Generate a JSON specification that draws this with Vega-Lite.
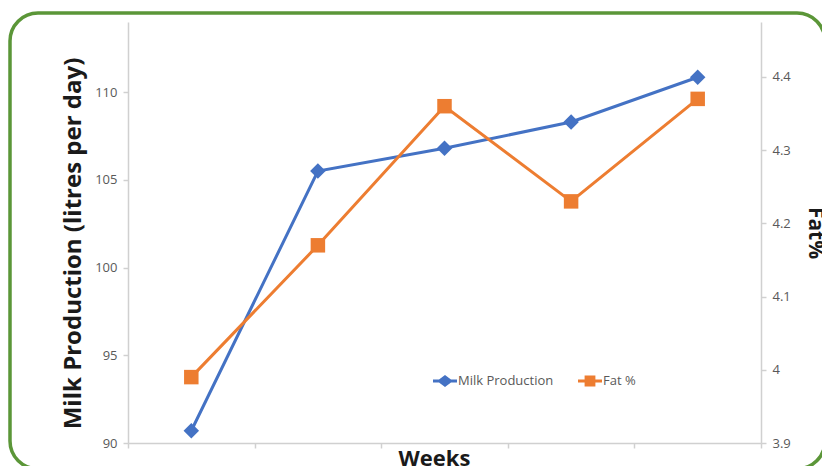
{
  "$schema": "https://vega.github.io/schema/vega-lite/v6.json",
  "width": 815,
  "height": 456,
  "padding": {"left": 10, "top": 13, "right": 0, "bottom": 0},
  "autosize": {"type": "none"},
  "background": "white",
  "config": {
    "view": {"stroke": "#5b9638", "strokeWidth": 3.5, "cornerRadius": 28},
    "axis": {
      "grid": false,
      "domainColor": "#d0d0d0",
      "domainWidth": 1.5,
      "tickColor": "#d0d0d0",
      "tickWidth": 1.5,
      "tickSize": 5,
      "labelFont": "Open Sans",
      "labelFontSize": 13,
      "labelColor": "#595959",
      "titleFont": "Open Sans",
      "titleFontWeight": 700,
      "titleFontSize": 21,
      "titleColor": "#1a1a1a"
    }
  },
  "data": {
    "values": [
      {"week": 1, "milk": 90.7, "fat": 3.99},
      {"week": 2, "milk": 105.5, "fat": 4.17},
      {"week": 3, "milk": 106.8, "fat": 4.36},
      {"week": 4, "milk": 108.3, "fat": 4.23},
      {"week": 5, "milk": 110.85, "fat": 4.37}
    ]
  },
  "layer": [
    {
      "mark": {"type": "line", "strokeWidth": 3, "point": {"shape": "diamond", "size": 240, "filled": true, "opacity": 1}},
      "encoding": {
        "x": {
          "field": "week",
          "type": "quantitative",
          "scale": {"domain": [0.5, 5.5], "range": [118, 751]},
          "axis": {"title": "Weeks", "values": [0.5, 1.5, 2.5, 3.5, 4.5, 5.5], "labels": false, "offset": -26, "titlePadding": 0, "titleX": 424, "titleFontSize": 22}
        },
        "y": {
          "field": "milk",
          "type": "quantitative",
          "scale": {"domain": [90, 114], "range": [430, 9]},
          "axis": {"title": "Milk Production (litres per day)", "values": [90, 95, 100, 105, 110], "offset": -118, "labelPadding": 6, "titlePadding": 9, "titleFontSize": 24, "titleY": 230}
        },
        "color": {
          "datum": "Milk Production",
          "type": "nominal",
          "scale": {"domain": ["Milk Production", "Fat %"], "range": ["#4472C4", "#ED7D31"]},
          "legend": {
            "title": null,
            "orient": "none",
            "direction": "horizontal",
            "legendX": 423,
            "legendY": 356,
            "symbolSize": 576,
            "labelFont": "Open Sans",
            "labelFontSize": 13,
            "labelColor": "#595959",
            "labelOffset": 1,
            "columnPadding": 24,
            "encode": {
              "symbols": {
                "update": {
                  "shape": {"signal": "datum.value === 'Milk Production' ? 'M-1,-0.13H-0.5L0,-0.5L0.5,-0.13H1V0.13H0.5L0,0.5L-0.5,0.13H-1Z' : 'M-1,-0.13H-0.45V-0.45H0.45V-0.13H1V0.13H0.45V0.45H-0.45V0.13H-1Z'"},
                  "fill": {"signal": "datum.value === 'Milk Production' ? '#4472C4' : '#ED7D31'"},
                  "strokeWidth": {"value": 0},
                  "opacity": {"value": 1}
                }
              }
            }
          }
        }
      }
    },
    {
      "mark": {"type": "line", "strokeWidth": 3, "point": {"shape": "square", "size": 210, "filled": true, "opacity": 1}},
      "encoding": {
        "x": {"field": "week", "type": "quantitative"},
        "y": {
          "field": "fat",
          "type": "quantitative",
          "scale": {"domain": [3.9, 4.475], "range": [430, 9]},
          "axis": {"title": "Fat%", "orient": "right", "values": [3.9, 4.0, 4.1, 4.2, 4.3, 4.4], "format": "~g", "offset": -64, "labelPadding": 6, "titlePadding": 14}
        },
        "color": {"datum": "Fat %", "type": "nominal"}
      }
    }
  ],
  "resolve": {"scale": {"y": "independent"}}
}
